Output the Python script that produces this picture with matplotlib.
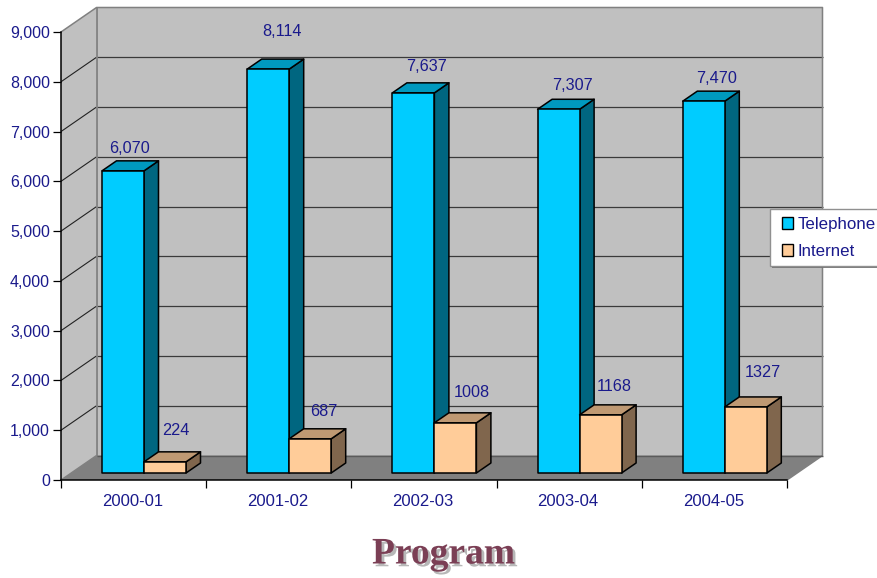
import matplotlib
matplotlib.use("Agg")
import matplotlib.pyplot as plt
import matplotlib.patheffects as pe
from matplotlib.patches import Polygon, Patch, Rectangle
from matplotlib.transforms import ScaledTranslation

# ---- data ----
categories = ["2000-01", "2001-02", "2002-03", "2003-04", "2004-05"]
telephone = [6070, 8114, 7637, 7307, 7470]
internet = [224, 687, 1008, 1168, 1327]
telephone_labels = ["6,070", "8,114", "7,637", "7,307", "7,470"]
internet_labels = ["224", "687", "1008", "1168", "1327"]
y_ticks = [0, 1000, 2000, 3000, 4000, 5000, 6000, 7000, 8000, 9000]

# ---- label offsets from bar top centre, in pixels ----
tel_off = [(7, 22), (14, 38), (13.5, 26), (14, 24), (13, 23)]
net_off = [(11, 31), (14, 27), (16, 30), (14, 28), (17, 34)]

W, H = 877, 578
L, R, T, B = 61, 787, 32, 480
INK = "#1a1a8c"
plt.rcParams["font.family"] = ["Liberation Sans", "DejaVu Sans"]
plt.rcParams["font.size"] = 11.5

fig = plt.figure(figsize=(W / 100, H / 100), dpi=100, facecolor="white")
ax = fig.add_axes([L / W, (H - B) / H, (R - L) / W, (B - T) / H])
ax.set_xlim(0, len(categories))
ax.set_ylim(0, 9000)
ax.patch.set_visible(False)

px = len(categories) / (R - L)   # data units per pixel, x
py = 9000 / (B - T)              # data units per pixel, y
XMAX = len(categories)
YMAX = 9000


def poly(pts, fc, ec="none", lw=0.0, z=1):
    ax.add_patch(Polygon(pts, closed=True, facecolor=fc, edgecolor=ec,
                         linewidth=lw, zorder=z, clip_on=False, joinstyle="round"))


def line(xs, ys, c, lw, z=2):
    ax.plot(xs, ys, color=c, lw=lw, zorder=z, clip_on=False, solid_capstyle="butt")


# walls & floor
wx, wy = 35.5 * px, 24.5 * py
poly([(0, 0), (wx, wy), (wx, YMAX + wy), (0, YMAX)], "#c0c0c0")
poly([(wx, wy), (XMAX + wx, wy), (XMAX + wx, YMAX + wy), (wx, YMAX + wy)], "#c0c0c0")
poly([(0, 0), (XMAX, 0), (XMAX + wx, wy), (wx, wy)], "#808080")

# gridlines
for v in y_ticks[1:-1]:
    line([wx, XMAX + wx], [v + wy, v + wy], "#3a3a3a", 0.9)
    line([0, wx], [v, v + wy], "#222222", 0.8)
# wall borders
line([0, wx, XMAX + wx, XMAX + wx, XMAX], [YMAX, YMAX + wy, YMAX + wy, wy, 0], "#808080", 1.1)
line([wx, wx], [wy, YMAX + wy], "#808080", 1.3)
line([wx, XMAX + wx], [wy, wy], "#5a5a5a", 1.0)
line([0, wx], [0, wy], "#808080", 1.0)


def bar3d(x0, width, val, front, top, side, z):
    bx, by = 14.5 * px, 10 * py
    base = 7 * py
    y0, y1 = base, base + val
    kw = dict(ec="black", lw=1.1, z=z)
    poly([(x0 + width, y0), (x0 + width + bx, y0 + by),
          (x0 + width + bx, y1 + by), (x0 + width, y1)], side, **kw)
    poly([(x0, y1), (x0 + width, y1), (x0 + width + bx, y1 + by), (x0 + bx, y1 + by)], top, **kw)
    poly([(x0, y0), (x0 + width, y0), (x0 + width, y1), (x0, y1)], front, **kw)


bw = 42 * px
shift = 10.4 * px
for i in range(len(categories)):
    xc = i + 0.5 + shift
    bar3d(xc - bw, bw, telephone[i], "#00ccff", "#0099bf", "#006680", 5 + 2 * i)
    bar3d(xc, bw, internet[i], "#ffcc99", "#bf9973", "#80664d", 6 + 2 * i)
    ax.annotate(telephone_labels[i], (xc - bw / 2, 7 * py + telephone[i]), xytext=tel_off[i],
                textcoords="offset pixels", ha="center", va="center",
                color=INK, fontsize=11.7, zorder=30, annotation_clip=False)
    ax.annotate(internet_labels[i], (xc + bw / 2, 7 * py + internet[i]), xytext=net_off[i],
                textcoords="offset pixels", ha="center", va="center",
                color=INK, fontsize=11.7, zorder=30, annotation_clip=False)

# axes
for s in ["top", "right"]:
    ax.spines[s].set_visible(False)
for s in ["left", "bottom"]:
    ax.spines[s].set_linewidth(1.1)
    ax.spines[s].set_zorder(4)
ax.set_yticks(y_ticks)
ax.set_yticklabels([f"{v:,}" for v in y_ticks], color=INK)
ax.set_xticks(range(len(categories) + 1))
ax.set_xticklabels([])
ax.set_xticks([i + 0.5 for i in range(len(categories))], minor=True)
ax.set_xticklabels(categories, minor=True, color=INK, fontsize=12)
ax.tick_params(axis="y", length=5.8, width=0.9, pad=2.2)
ax.tick_params(axis="x", which="major", length=5.8, width=0.9)
ax.tick_params(axis="x", which="minor", length=0, pad=10)
for lab in ax.get_xticklabels(minor=True):
    lab.set_transform(lab.get_transform() + ScaledTranslation(-0.012, 0, fig.dpi_scale_trans))

# legend box
box = Rectangle((770 / W, 1 - 266 / H), 112 / W, 57 / H, transform=fig.transFigure,
                facecolor="white", edgecolor="#909090", linewidth=1.0, zorder=39, clip_on=False)
box.set_path_effects([pe.SimplePatchShadow(offset=(1.2, -1.2), shadow_rgbFace="#707070", alpha=0.9),
                      pe.Normal()])
fig.add_artist(box)

# legend
handles = [Patch(facecolor="#00ccff", edgecolor="black", linewidth=1.0, label="Telephone"),
           Patch(facecolor="#ffcc99", edgecolor="black", linewidth=1.0, label="Internet")]
leg = fig.legend(handles=handles, loc="upper left", bbox_to_anchor=(782 / W, 1 - 217 / H),
                 bbox_transform=fig.transFigure, fontsize=12.2, labelcolor=INK,
                 frameon=False, borderaxespad=0, borderpad=0,
                 handlelength=0.65, handleheight=0.65, handletextpad=0.26,
                 labelspacing=0.7)
leg.set_zorder(40)

# title
fig.text(443.5 / W, 1 - 554 / H, "Program", ha="center", va="center",
         family=["Liberation Serif", "DejaVu Serif"], weight="bold", fontsize=27, color="#7b3f55",
         path_effects=[pe.withSimplePatchShadow(offset=(2, -2), shadow_rgbFace="#999999", alpha=0.7)])

fig.savefig("out.png", dpi=100, facecolor="white")
